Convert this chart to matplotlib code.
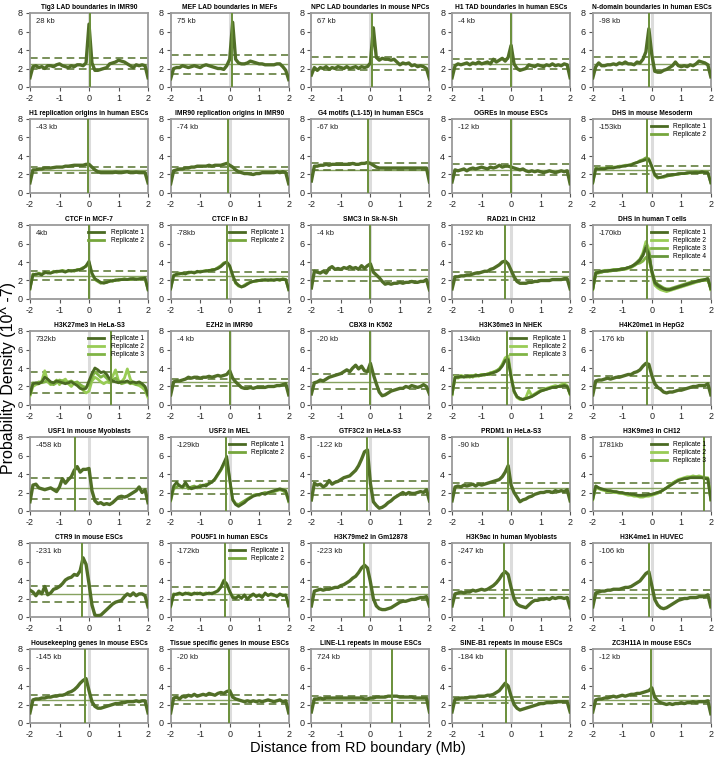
import matplotlib
matplotlib.use("Agg")
import matplotlib.pyplot as plt
import numpy as np

plt.rcParams["font.family"] = ["Liberation Sans", "DejaVu Sans"]

# distance from boundary (Mb), shared by every curve
distance_mb = np.linspace(-2, 2, 41)

titles = [
    "Tig3 LAD boundaries in IMR90", "MEF LAD boundaries in MEFs", "NPC LAD boundaries in mouse NPCs",
    "H1 TAD boundaries in human ESCs", "N-domain boundaries in human ESCs",
    "H1 replication origins in human ESCs", "IMR90 replication origins in IMR90", "G4 motifs (L1-15) in human ESCs",
    "OGREs in mouse ESCs", "DHS in mouse Mesoderm",
    "CTCF in MCF-7", "CTCF in BJ", "SMC3 in Sk-N-Sh", "RAD21 in CH12", "DHS in human T cells",
    "H3K27me3 in HeLa-S3", "EZH2 in IMR90", "CBX8 in K562", "H3K36me3 in NHEK", "H4K20me1 in HepG2",
    "USF1 in mouse Myoblasts", "USF2 in MEL", "GTF3C2 in HeLa-S3", "PRDM1 in HeLa-S3", "H3K9me3 in CH12",
    "CTR9 in mouse ESCs", "POU5F1 in human ESCs", "H3K79me2 in Gm12878", "H3K9ac in human Myoblasts", "H3K4me1 in HUVEC",
    "Housekeeping genes in mouse ESCs", "Tissue specific genes in mouse ESCs", "LINE-L1 repeats in mouse ESCs",
    "SINE-B1 repeats in mouse ESCs", "ZC3H11A in mouse ESCs",
]
shift_labels = [
    "28 kb", "75 kb", "67 kb", "-4 kb", "-98 kb",
    "-43 kb", "-74 kb", "-67 kb", "-12 kb", "-153kb",
    "4kb", "-78kb", "-4 kb", "-192 kb", "-170kb",
    "732kb", "-4 kb", "-20 kb", "-134kb", "-176 kb",
    "-458 kb", "-129kb", "-122 kb", "-90 kb", "1781kb",
    "-231 kb", "-172kb", "-223 kb", "-247 kb", "-106 kb",
    "-145 kb", "-20 kb", "724 kb", "-184 kb", "-12 kb",
]
shift_kb = [28, 75, 67, -4, -98, -43, -74, -67, -12, -153, 4, -78, -4, -192, -170,
            732, -4, -20, -134, -176, -458, -129, -122, -90, 1781,
            -231, -172, -223, -247, -106, -145, -20, 724, -184, -12]
band_upper = [3.1, 3.5, 3.2, 3.0, 3.2, 2.85, 2.85, 3.2, 3.1, 2.9, 3.0, 2.9, 3.1, 2.9, 3.1,
              3.6, 2.85, 3.3, 3.2, 3.1, 3.6, 3.2, 3.2, 3.05, 3.0,
              3.4, 3.2, 3.2, 2.95, 2.9, 3.0, 3.0, 2.9, 2.8, 2.9]
band_lower = [1.9, 1.4, 1.8, 2.0, 1.8, 2.15, 2.15, 2.5, 1.9, 2.1, 2.0, 2.1, 1.9, 2.1, 1.9,
              1.3, 2.1, 1.7, 1.8, 1.85, 1.3, 1.8, 1.75, 1.95, 2.0,
              1.6, 1.8, 1.8, 2.05, 2.1, 2.0, 2.1, 2.2, 2.2, 2.1]
uniform_level = 2.5

tig3 = [1.0, 2.2, 2.3, 2.1, 2.2, 2.0, 2.3, 2.3, 2.2, 2.4, 2.5, 2.3, 2.2, 2.1, 2.3, 2.2, 2.4, 2.4, 2.3, 2.6,
        6.8, 2.6, 1.8, 1.8, 1.9, 2.0, 2.1, 2.5, 2.6, 2.7, 2.9, 2.8, 2.7, 2.5, 2.3, 2.1, 2.4, 2.3, 2.4, 2.3, 1.0]
mef = [0.9, 2.0, 2.1, 2.1, 2.3, 2.2, 2.1, 2.2, 2.3, 2.2, 2.1, 2.3, 2.4, 2.3, 2.2, 2.1, 2.0, 2.0, 1.9, 2.3,
       3.0, 7.0, 3.0, 2.6, 2.5, 2.5, 2.6, 2.8, 2.7, 2.6, 2.5, 2.5, 2.4, 2.4, 2.4, 2.4, 2.5, 2.5, 2.2, 1.8, 0.8]
npc = [1.3, 2.1, 1.8, 2.1, 2.0, 2.2, 1.9, 2.1, 2.0, 2.2, 2.1, 2.0, 2.2, 2.0, 2.1, 2.2, 2.0, 2.2, 2.1, 2.2,
       2.6, 6.4, 3.2, 2.9, 3.1, 3.0, 3.0, 2.9, 3.0, 2.7, 2.4, 2.6, 2.5, 2.6, 2.3, 2.4, 2.2, 2.3, 2.2, 2.0, 0.9]
h1_tad = [1.0, 2.3, 2.5, 2.4, 2.5, 2.6, 2.4, 2.6, 2.5, 2.7, 2.5, 2.6, 2.7, 2.5, 3.0, 2.7, 2.9, 3.1, 2.8, 3.2,
          4.5, 2.5, 2.0, 1.8, 1.9, 2.0, 2.4, 2.3, 2.2, 2.4, 2.3, 2.2, 2.4, 2.3, 2.5, 2.3, 2.4, 2.3, 2.5, 2.4, 1.0]
ndomain = [1.0, 2.2, 2.6, 2.3, 2.3, 2.4, 2.4, 2.5, 2.4, 2.6, 2.5, 2.7, 2.5, 2.5, 2.4, 2.7, 2.6, 3.0, 3.8, 6.3,
           3.5, 1.7, 1.6, 1.6, 1.8, 1.9, 2.1, 2.3, 2.7, 2.3, 2.2, 2.3, 2.2, 2.4, 2.3, 2.5, 2.8, 2.7, 2.6, 2.4, 1.1]
h1_ori = [1.1, 2.5, 2.5, 2.6, 2.6, 2.7, 2.7, 2.7, 2.75, 2.8, 2.8, 2.8, 2.9, 2.9, 2.95, 3.0, 3.0, 3.0, 3.0, 3.1,
          3.1, 2.8, 2.5, 2.3, 2.2, 2.2, 2.2, 2.2, 2.2, 2.25, 2.2, 2.2, 2.25, 2.3, 2.2, 2.2, 2.25, 2.2, 2.2, 2.2, 1.1]
imr90_ori = [1.0, 2.4, 2.5, 2.6, 2.6, 2.7, 2.7, 2.8, 2.8, 2.9, 2.9, 2.9, 2.9, 3.0, 2.9, 3.0, 3.0, 3.0, 3.1, 3.2,
             3.0, 2.8, 2.5, 2.3, 2.2, 2.1, 2.1, 2.05, 2.0, 2.1, 2.1, 2.2, 2.2, 2.2, 2.2, 2.2, 2.3, 2.2, 2.3, 2.2, 1.0]
g4 = [1.3, 2.9, 2.9, 3.0, 3.0, 3.1, 3.0, 3.1, 3.1, 3.1, 3.1, 3.1, 3.1, 3.1, 3.2, 3.1, 3.1, 3.2, 3.2, 3.3,
      3.2, 3.0, 2.8, 2.7, 2.7, 2.7, 2.7, 2.7, 2.7, 2.7, 2.7, 2.7, 2.7, 2.7, 2.7, 2.7, 2.7, 2.7, 2.7, 2.7, 1.2]
ogre = [1.2, 2.5, 2.4, 2.5, 2.6, 2.4, 2.6, 2.7, 2.6, 2.7, 2.8, 2.7, 2.6, 2.8, 2.7, 2.8, 3.0, 2.8, 2.9, 2.9,
        2.8, 2.7, 2.6, 2.5, 2.6, 2.4, 2.3, 2.4, 2.3, 2.4, 2.3, 2.2, 2.3, 2.4, 2.3, 2.2, 2.3, 2.4, 2.3, 2.4, 1.0]
dhs_meso_1 = [1.1, 2.6, 2.6, 2.6, 2.6, 2.7, 2.7, 2.7, 2.8, 2.8, 2.9, 2.9, 3.0, 3.0, 3.2, 3.3, 3.4, 3.5, 3.6, 3.6,
              2.9, 2.0, 1.7, 1.7, 1.8, 1.9, 1.9, 2.0, 2.0, 2.1, 2.1, 2.1, 2.2, 2.2, 2.2, 2.2, 2.2, 2.3, 2.2, 2.2, 1.1]
dhs_meso_2 = [1.1, 2.7, 2.6, 2.7, 2.7, 2.7, 2.8, 2.8, 2.8, 2.9, 2.9, 3.0, 3.0, 3.1, 3.2, 3.3, 3.5, 3.6, 3.8, 3.7,
              2.8, 1.9, 1.6, 1.7, 1.7, 1.8, 1.9, 1.9, 2.0, 2.0, 2.1, 2.1, 2.1, 2.2, 2.2, 2.3, 2.2, 2.2, 2.3, 2.2, 1.1]
ctcf_mcf7_1 = [1.1, 2.6, 2.7, 2.7, 2.6, 2.9, 2.8, 2.8, 2.9, 3.0, 3.0, 3.0, 2.9, 3.1, 3.0, 3.1, 3.1, 3.2, 3.3, 3.6,
               4.1, 2.8, 2.2, 2.0, 1.8, 1.7, 1.8, 1.9, 2.0, 2.0, 2.1, 2.1, 2.1, 2.1, 2.2, 2.2, 2.1, 2.2, 2.2, 2.3, 1.0]
ctcf_mcf7_2 = [1.1, 2.7, 2.6, 2.8, 2.7, 2.8, 2.9, 2.8, 3.0, 2.9, 3.0, 3.1, 3.0, 3.0, 3.1, 3.0, 3.2, 3.2, 3.4, 3.5,
               3.9, 2.7, 2.1, 1.9, 1.7, 1.8, 1.8, 2.0, 1.9, 2.1, 2.0, 2.1, 2.2, 2.1, 2.1, 2.2, 2.2, 2.1, 2.3, 2.2, 1.0]
ctcf_bj_1 = [1.1, 2.5, 2.7, 2.7, 2.8, 2.7, 2.9, 2.9, 2.8, 3.0, 2.9, 3.0, 3.0, 3.1, 3.1, 3.2, 3.3, 3.5, 3.8, 4.0,
             3.6, 2.6, 1.8, 1.5, 1.3, 1.4, 1.6, 1.8, 1.9, 2.0, 2.0, 2.0, 2.1, 2.0, 2.1, 2.0, 2.1, 2.1, 2.1, 2.1, 1.0]
ctcf_bj_2 = [1.1, 2.6, 2.6, 2.8, 2.7, 2.8, 2.8, 2.9, 2.9, 2.9, 3.0, 3.0, 3.1, 3.0, 3.2, 3.2, 3.4, 3.6, 3.9, 4.0,
             3.5, 2.5, 1.7, 1.4, 1.3, 1.5, 1.7, 1.8, 1.9, 1.9, 2.0, 2.1, 2.0, 2.1, 2.0, 2.1, 2.1, 2.0, 2.2, 2.1, 1.0]
smc3 = [1.2, 3.0, 2.9, 2.8, 3.0, 2.8, 3.3, 3.5, 3.2, 3.3, 3.2, 3.4, 3.3, 3.5, 3.3, 3.4, 3.2, 3.6, 3.3, 3.6,
        3.8, 2.9, 2.6, 2.3, 1.9, 1.6, 1.7, 1.6, 1.7, 1.7, 1.8, 1.7, 1.8, 1.8, 1.9, 1.8, 1.8, 1.9, 1.9, 2.1, 1.0]
rad21 = [1.1, 2.4, 2.4, 2.5, 2.5, 2.6, 2.6, 2.7, 2.8, 2.8, 2.9, 3.0, 3.0, 3.2, 3.3, 3.5, 3.7, 4.0, 4.1, 3.8,
         3.1, 2.4, 1.9, 1.7, 1.7, 1.7, 1.8, 1.8, 1.9, 1.9, 2.0, 2.0, 2.0, 2.0, 2.1, 2.1, 2.1, 2.1, 2.2, 2.2, 1.1]
dhs_t_1 = [1.1, 2.8, 2.9, 3.0, 3.0, 3.0, 3.1, 3.1, 3.1, 3.2, 3.2, 3.3, 3.4, 3.5, 3.7, 3.9, 4.2, 4.7, 5.5, 4.8,
           3.0, 1.8, 1.5, 1.3, 1.1, 1.0, 1.0, 1.1, 1.2, 1.3, 1.4, 1.5, 1.6, 1.7, 1.8, 1.9, 2.0, 2.0, 2.1, 2.2, 1.1]
dhs_t_2 = [1.0, 2.7, 2.8, 2.9, 3.0, 3.0, 3.0, 3.1, 3.1, 3.1, 3.2, 3.2, 3.3, 3.4, 3.6, 3.9, 4.3, 5.0, 6.2, 5.4,
           2.8, 1.5, 1.2, 1.0, 0.9, 0.8, 0.9, 1.0, 1.1, 1.2, 1.3, 1.4, 1.5, 1.6, 1.7, 1.8, 1.9, 2.0, 2.0, 2.1, 1.0]
dhs_t_3 = [1.1, 2.9, 2.9, 3.0, 3.1, 3.1, 3.1, 3.2, 3.2, 3.2, 3.3, 3.3, 3.4, 3.5, 3.6, 3.8, 3.9, 4.1, 4.5, 4.2,
           3.1, 2.0, 1.6, 1.4, 1.2, 1.1, 1.1, 1.2, 1.3, 1.4, 1.5, 1.6, 1.7, 1.8, 1.9, 1.9, 2.0, 2.1, 2.1, 2.2, 1.1]
dhs_t_4 = [1.1, 2.8, 2.9, 2.9, 3.0, 3.1, 3.1, 3.1, 3.2, 3.2, 3.3, 3.3, 3.4, 3.5, 3.7, 4.0, 4.3, 4.8, 5.7, 5.0,
           3.0, 1.7, 1.4, 1.2, 1.1, 1.0, 1.0, 1.1, 1.2, 1.3, 1.4, 1.5, 1.6, 1.7, 1.8, 1.9, 1.9, 2.0, 2.1, 2.2, 1.1]
h3k27me3_1 = [1.2, 2.3, 2.4, 2.3, 2.5, 3.0, 2.8, 2.5, 2.4, 2.6, 2.5, 2.4, 2.3, 2.4, 2.5, 2.3, 2.1, 1.8, 1.7, 1.8,
              2.6, 3.4, 4.0, 3.8, 3.5, 3.6, 3.3, 2.8, 2.6, 2.5, 2.4, 2.5, 2.5, 2.6, 2.4, 2.5, 2.4, 2.5, 2.3, 2.0, 1.1]
h3k27me3_2 = [1.0, 2.0, 2.2, 2.3, 2.6, 3.7, 2.5, 2.2, 2.4, 2.7, 2.2, 2.6, 2.8, 2.3, 2.0, 2.4, 2.2, 1.9, 1.6, 1.3,
              1.5, 2.6, 3.0, 2.8, 2.5, 2.3, 2.5, 2.4, 3.1, 3.8, 2.6, 2.5, 2.9, 3.9, 2.8, 2.3, 2.2, 2.1, 1.9, 1.6, 0.8]
h3k27me3_3 = [1.1, 2.4, 2.3, 2.5, 2.4, 2.5, 2.7, 2.3, 2.2, 2.4, 2.7, 2.6, 2.4, 2.5, 2.6, 2.4, 2.5, 2.2, 2.0, 1.9,
              2.2, 3.0, 3.6, 3.3, 3.0, 3.2, 2.9, 2.6, 2.7, 2.9, 2.6, 2.3, 2.4, 2.5, 2.3, 2.4, 2.2, 2.3, 2.2, 1.9, 1.0]
ezh2 = [1.1, 2.5, 2.6, 2.6, 2.7, 2.8, 3.0, 2.9, 3.0, 3.0, 2.9, 3.0, 3.0, 3.1, 3.0, 3.1, 3.2, 3.1, 3.2, 3.3,
        3.7, 2.9, 2.5, 2.2, 1.9, 1.8, 1.8, 1.9, 1.8, 1.9, 1.9, 1.9, 1.9, 2.0, 2.0, 2.0, 2.1, 2.1, 2.2, 2.3, 1.1]
cbx8 = [1.2, 2.4, 2.5, 2.7, 2.6, 2.8, 3.0, 3.1, 3.2, 3.3, 3.4, 3.6, 3.8, 3.6, 4.0, 4.3, 3.9, 4.2, 3.7, 3.6,
        4.5, 3.3, 2.3, 1.4, 1.0, 1.1, 1.3, 1.5, 1.6, 1.7, 1.8, 1.8, 2.0, 1.9, 2.1, 2.0, 1.9, 2.0, 2.2, 2.0, 1.2]
h3k36_1 = [1.2, 3.0, 3.0, 3.1, 3.0, 3.1, 3.1, 3.1, 3.2, 3.2, 3.2, 3.3, 3.3, 3.4, 3.5, 3.6, 3.8, 4.2, 4.8, 4.9,
           3.0, 1.5, 0.9, 0.7, 0.6, 0.7, 0.8, 0.9, 1.1, 1.3, 1.5, 1.6, 1.7, 1.8, 1.9, 1.9, 2.0, 2.0, 2.1, 2.0, 1.2]
h3k36_2 = [1.1, 3.1, 2.9, 3.2, 3.1, 3.0, 3.2, 3.0, 3.3, 3.1, 3.3, 3.2, 3.4, 3.3, 3.6, 3.7, 3.9, 4.4, 5.1, 5.3,
           3.2, 1.4, 0.8, 0.6, 0.6, 0.8, 1.6, 1.0, 1.2, 1.4, 1.6, 1.7, 1.8, 1.9, 2.0, 2.1, 2.0, 2.2, 2.3, 2.1, 1.1]
h3k36_3 = [1.2, 2.9, 3.0, 3.0, 3.1, 3.1, 3.0, 3.2, 3.1, 3.2, 3.3, 3.3, 3.3, 3.5, 3.5, 3.7, 3.9, 4.3, 4.9, 5.0,
           3.1, 1.5, 0.9, 0.7, 0.6, 0.7, 0.8, 1.0, 1.1, 1.3, 1.5, 1.6, 1.7, 1.8, 1.9, 2.0, 2.0, 2.1, 2.2, 2.0, 1.2]
h4k20 = [1.1, 2.6, 2.7, 2.7, 2.8, 2.9, 2.8, 2.9, 3.0, 3.0, 3.1, 3.2, 3.3, 3.3, 3.5, 3.6, 3.8, 4.2, 4.5, 4.4,
         3.2, 2.3, 1.9, 1.7, 1.4, 1.3, 1.4, 1.4, 1.5, 1.6, 1.6, 1.7, 1.8, 1.9, 2.0, 2.0, 2.1, 2.1, 2.1, 2.3, 1.1]
usf1 = [1.0, 2.8, 2.9, 2.5, 2.4, 2.3, 2.4, 2.5, 2.3, 2.1, 2.6, 3.5, 3.0, 3.4, 3.7, 4.4, 4.8, 4.2, 4.5, 4.5,
        4.6, 2.2, 1.1, 0.8, 0.9, 0.7, 0.8, 0.7, 0.9, 1.2, 1.5, 1.6, 1.5, 1.6, 1.8, 2.0, 2.2, 2.6, 2.0, 2.3, 0.9]
usf2_1 = [1.2, 2.7, 3.1, 2.7, 2.6, 3.1, 2.6, 2.4, 2.5, 2.6, 2.6, 2.8, 2.7, 3.0, 3.1, 3.5, 4.0, 4.5, 5.2, 5.9,
          3.5, 1.2, 0.7, 0.5, 0.7, 0.9, 1.2, 1.4, 1.6, 1.7, 1.8, 1.9, 1.8, 2.0, 2.1, 2.2, 2.3, 2.4, 2.3, 2.2, 1.1]
usf2_2 = [1.1, 2.4, 2.6, 2.8, 2.5, 2.9, 2.4, 2.6, 2.7, 2.5, 2.8, 2.7, 2.9, 2.9, 3.2, 3.4, 3.9, 4.4, 5.0, 5.6,
          3.3, 1.3, 0.8, 0.7, 0.9, 1.1, 1.3, 1.5, 1.7, 1.8, 1.7, 1.9, 2.0, 1.9, 2.0, 2.1, 2.2, 2.3, 2.2, 2.0, 1.0]
gtf3c2 = [1.2, 3.0, 2.8, 2.9, 2.6, 2.8, 3.3, 2.9, 3.1, 3.2, 3.4, 3.6, 3.7, 3.8, 4.1, 4.4, 4.9, 5.6, 6.4, 6.6,
          3.0, 1.0, 0.6, 0.3, 0.4, 0.6, 0.9, 1.1, 1.4, 1.6, 1.8, 2.0, 1.8, 2.0, 1.9, 1.9, 2.0, 2.1, 2.0, 2.3, 1.1]
prdm1 = [1.1, 2.6, 2.7, 2.6, 2.8, 2.7, 2.8, 2.9, 2.7, 2.9, 2.8, 2.9, 3.0, 3.1, 3.2, 3.3, 3.4, 3.7, 4.2, 4.9,
         2.8, 2.0, 1.5, 1.0, 1.2, 1.3, 1.5, 1.6, 1.8, 1.9, 2.0, 2.0, 2.1, 2.1, 2.0, 2.2, 2.1, 2.2, 2.1, 2.3, 1.1]
h3k9me3_1 = [1.3, 2.7, 2.5, 2.4, 2.3, 2.2, 2.2, 2.1, 2.1, 2.0, 2.0, 1.9, 1.9, 1.8, 1.8, 1.7, 1.7, 1.7, 1.7, 1.8,
             1.8, 1.9, 2.0, 2.1, 2.3, 2.5, 2.7, 2.9, 3.1, 3.3, 3.4, 3.5, 3.5, 3.6, 3.6, 3.6, 3.6, 3.6, 3.5, 3.5, 1.2]
h3k9me3_2 = [1.2, 2.6, 2.4, 2.3, 2.2, 2.1, 2.1, 2.0, 2.0, 1.9, 1.9, 1.8, 1.7, 1.7, 1.6, 1.6, 1.5, 1.5, 1.6, 1.6,
             1.7, 1.8, 1.9, 2.1, 2.3, 2.5, 2.8, 3.0, 3.2, 3.4, 3.5, 3.6, 3.7, 3.7, 3.8, 3.7, 3.8, 3.7, 3.6, 3.6, 1.3]
h3k9me3_3 = [1.3, 2.7, 2.5, 2.3, 2.3, 2.2, 2.1, 2.1, 2.0, 2.0, 1.9, 1.9, 1.8, 1.8, 1.7, 1.7, 1.6, 1.6, 1.7, 1.7,
             1.8, 1.9, 2.0, 2.1, 2.3, 2.5, 2.7, 3.0, 3.2, 3.3, 3.4, 3.5, 3.6, 3.6, 3.7, 3.7, 3.7, 3.6, 3.6, 3.5, 1.2]
ctr9 = [2.9, 2.7, 2.3, 2.8, 2.5, 3.3, 2.4, 2.6, 3.0, 3.1, 3.3, 3.6, 4.0, 4.2, 4.3, 4.6, 4.5, 5.0, 6.4, 5.7,
        3.6, 1.3, 0.2, 0.15, 0.2, 0.5, 0.8, 1.1, 1.4, 1.6, 1.7, 1.8, 2.2, 2.5, 2.3, 2.6, 2.3, 2.5, 2.5, 2.3, 1.1]
pou5f1_1 = [1.2, 2.4, 2.5, 2.6, 2.4, 2.6, 2.5, 2.4, 2.6, 2.5, 2.6, 2.4, 2.5, 2.6, 2.5, 2.7, 2.8, 3.2, 3.9, 3.6,
            2.8, 2.1, 2.0, 2.3, 2.0, 2.4, 1.9, 2.3, 2.5, 2.2, 2.4, 2.1, 2.6, 2.3, 2.5, 2.4, 2.2, 2.5, 2.3, 2.4, 1.2]
pou5f1_2 = [1.1, 2.5, 2.4, 2.5, 2.5, 2.5, 2.6, 2.5, 2.5, 2.6, 2.5, 2.5, 2.6, 2.5, 2.6, 2.6, 2.9, 3.3, 4.0, 3.5,
            2.7, 2.2, 2.1, 2.2, 2.1, 2.3, 2.0, 2.2, 2.4, 2.3, 2.3, 2.2, 2.5, 2.4, 2.4, 2.3, 2.3, 2.4, 2.4, 2.3, 1.2]
h3k79 = [1.2, 2.8, 2.9, 3.0, 2.9, 3.0, 3.0, 3.1, 3.2, 3.2, 3.4, 3.5, 3.7, 3.9, 4.2, 4.4, 4.8, 5.3, 5.6, 5.3,
         3.8, 2.0, 1.2, 0.9, 0.8, 0.8, 0.9, 1.0, 1.2, 1.4, 1.6, 1.7, 1.7, 1.8, 1.9, 1.9, 2.0, 2.1, 2.1, 2.2, 1.2]
h3k9ac = [1.2, 2.5, 2.6, 2.7, 2.6, 2.7, 2.7, 2.9, 2.8, 2.9, 3.0, 2.9, 3.0, 3.2, 3.4, 3.7, 4.1, 4.6, 4.9, 4.6,
          3.2, 2.0, 1.4, 1.2, 1.1, 1.0, 1.3, 1.6, 1.8, 1.8, 1.9, 1.9, 2.0, 1.9, 2.1, 2.0, 2.1, 2.1, 2.0, 2.1, 1.0]
h3k4me1 = [1.1, 2.6, 2.7, 2.8, 2.8, 2.9, 2.9, 3.0, 3.0, 3.0, 3.1, 3.2, 3.2, 3.3, 3.5, 3.7, 3.9, 4.3, 4.7, 4.9,
           3.4, 1.9, 1.3, 1.0, 0.9, 1.0, 1.2, 1.4, 1.6, 1.8, 1.9, 2.0, 2.0, 2.1, 2.1, 2.1, 2.2, 2.2, 2.2, 2.4, 1.1]
housekeeping = [1.1, 2.5, 2.6, 2.6, 2.7, 2.7, 2.8, 2.8, 2.9, 2.9, 3.0, 3.0, 3.1, 3.3, 3.4, 3.6, 3.9, 4.3, 4.6, 4.8,
                3.5, 2.3, 1.8, 1.6, 1.6, 1.7, 1.8, 1.9, 2.0, 2.1, 2.1, 2.2, 2.2, 2.3, 2.3, 2.3, 2.4, 2.3, 2.4, 2.4, 1.1]
tissue = [1.1, 2.7, 2.8, 2.6, 2.9, 2.8, 3.0, 2.9, 3.1, 2.9, 3.0, 3.1, 3.0, 3.2, 3.1, 3.0, 3.2, 3.3, 3.2, 3.4,
          3.5, 2.8, 2.6, 2.5, 2.4, 2.3, 2.4, 2.3, 2.4, 2.3, 2.4, 2.3, 2.4, 2.5, 2.4, 2.3, 2.4, 2.5, 2.3, 2.4, 1.1]
line_l1 = [1.2, 2.6, 2.6, 2.7, 2.6, 2.7, 2.7, 2.7, 2.7, 2.7, 2.7, 2.7, 2.7, 2.7, 2.7, 2.7, 2.7, 2.7, 2.6, 2.6,
           2.7, 2.7, 2.8, 2.8, 2.8, 2.8, 2.9, 2.9, 2.9, 2.9, 2.8, 2.8, 2.8, 2.8, 2.8, 2.7, 2.7, 2.7, 2.7, 2.7, 1.2]
sine_b1 = [1.2, 2.6, 2.6, 2.7, 2.7, 2.7, 2.8, 2.8, 2.8, 2.9, 2.9, 2.9, 3.0, 3.0, 3.1, 3.3, 3.5, 3.9, 4.3, 4.0,
           2.9, 2.0, 1.6, 1.4, 1.5, 1.6, 1.7, 1.8, 1.9, 2.0, 2.1, 2.1, 2.2, 2.2, 2.2, 2.3, 2.3, 2.3, 2.3, 2.3, 1.2]
zc3h11a = [1.2, 2.5, 2.6, 2.6, 2.7, 2.7, 2.8, 2.9, 2.8, 2.9, 3.0, 2.9, 3.0, 3.1, 3.1, 3.2, 3.2, 3.3, 3.4, 3.5,
           3.8, 2.8, 2.4, 2.2, 2.1, 2.0, 2.1, 2.0, 2.1, 2.1, 2.2, 2.1, 2.2, 2.2, 2.3, 2.2, 2.3, 2.3, 2.3, 2.4, 1.0]

# curves per panel, in grid order
panel_curves = [
    [tig3], [mef], [npc], [h1_tad], [ndomain],
    [h1_ori], [imr90_ori], [g4], [ogre], [dhs_meso_1, dhs_meso_2],
    [ctcf_mcf7_1, ctcf_mcf7_2], [ctcf_bj_1, ctcf_bj_2], [smc3], [rad21], [dhs_t_1, dhs_t_2, dhs_t_3, dhs_t_4],
    [h3k27me3_1, h3k27me3_2, h3k27me3_3], [ezh2], [cbx8], [h3k36_1, h3k36_2, h3k36_3], [h4k20],
    [usf1], [usf2_1, usf2_2], [gtf3c2], [prdm1], [h3k9me3_1, h3k9me3_2, h3k9me3_3],
    [ctr9], [pou5f1_1, pou5f1_2], [h3k79], [h3k9ac], [h3k4me1],
    [housekeeping], [tissue], [line_l1], [sine_b1], [zc3h11a],
]

CURVE = "#516f27"
REP2_COLORS = ["#4a6a22", "#76a63c"]
REPN_COLORS = ["#4a6a22", "#98cc55", "#80b445", "#66963a"]
BAND = "#55732c"
MEAN = "#86a260"
MARK = "#6a8f3a"
SPINE = "#9a9a9a"

W, H = 716, 757
fig = plt.figure(figsize=(W / 100, H / 100), dpi=100)

for k, (title, lab, kb, hi, lo, curves) in enumerate(
        zip(titles, shift_labels, shift_kb, band_upper, band_lower, panel_curves)):
    r, c = divmod(k, 5)
    left = 30 + c * 140.7
    top = 13 + r * 106
    ax = fig.add_axes([left / W, 1 - (top + 74) / H, 118 / W, 74 / H])

    ax.axvline(0, color="#dcdcdc", lw=2.2, zorder=1)
    ax.axhline(uniform_level, color=MEAN, lw=1.0, zorder=2)
    ax.axhline(hi, color=BAND, lw=1.1, ls=(0, (5, 3)), zorder=2)
    ax.axhline(lo, color=BAND, lw=1.1, ls=(0, (5, 3)), zorder=2)

    if len(curves) == 1:
        ax.plot(distance_mb, curves[0], color=CURVE, lw=2.4, zorder=3, solid_joinstyle="round")
    else:
        cols = REP2_COLORS if len(curves) == 2 else REPN_COLORS
        lines = []
        for j, ys in enumerate(curves):
            # replicate 1 sits on top, as in the original
            z = 3.5 if j == 0 else 3 + j * 0.05
            ln, = ax.plot(distance_mb, ys, color=cols[j], lw=2.0, zorder=z,
                          label=f"Replicate {j + 1}", solid_joinstyle="round")
            lines.append(ln)
        ax.legend(handles=lines, loc="upper right", fontsize=4.8, frameon=False, handlelength=2.4,
                  borderaxespad=0.25, labelspacing=0.15, handletextpad=1.0)

    ax.axvline(kb / 1000, color=MARK, lw=1.4, zorder=4)
    ax.text(0.05, 0.93, lab, transform=ax.transAxes, fontsize=5.5, va="top", ha="left", color="#222222")

    ax.set_xlim(-2, 2)
    ax.set_ylim(0, 8)
    ax.set_xticks([-2, -1, 0, 1, 2])
    ax.set_xticklabels(["-2", "-1", "0", "1", "2"])
    ax.set_yticks([0, 2, 4, 6, 8])
    ax.tick_params(labelsize=6.5, length=3, width=0.8, color="#555555", labelcolor="#222222", pad=2)
    for s in ax.spines.values():
        s.set_color(SPINE)
        s.set_linewidth(1.3)
    ax.set_title(title, fontsize=4.8, fontweight="bold", pad=3)

fig.text(0.012, 0.5, "Probability Density (10^ -7)", rotation=90, va="center", ha="center", fontsize=11.5)
fig.text(0.5, 0.012, "Distance from RD boundary (Mb)", va="center", ha="center", fontsize=10.5)

fig.savefig("out.png", dpi=100)
